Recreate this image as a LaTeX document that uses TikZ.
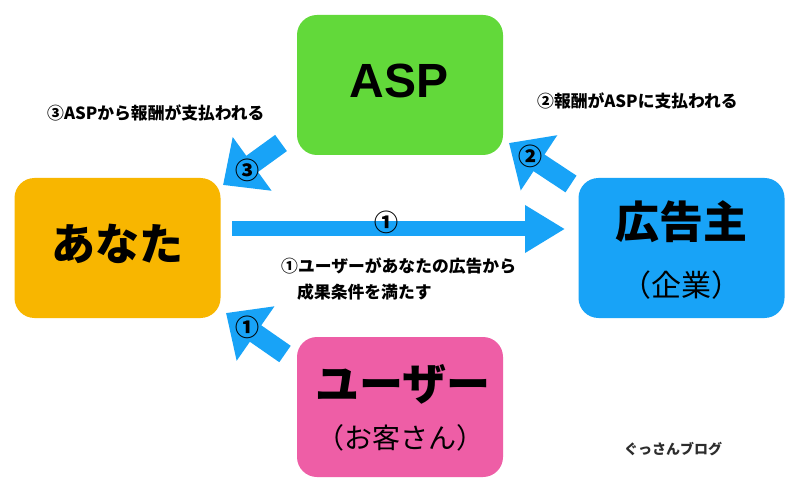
\documentclass[tikz,border=0pt]{standalone}
\usepackage{fontspec}
\setmainfont{Noto Sans CJK JP}
\newfontfamily\latinsans{Liberation Sans}
\usetikzlibrary{arrows.meta}
\definecolor{aspgreen}{RGB}{98,217,58}
\definecolor{youorange}{RGB}{248,182,0}
\definecolor{adblue}{RGB}{24,163,247}
\definecolor{userpink}{RGB}{238,94,166}
\definecolor{arrowblue}{RGB}{24,163,247}
\definecolor{txtgray}{RGB}{45,45,45}
\begin{document}
\begin{tikzpicture}[x=1pt,y=-1pt,
  box/.style={rounded corners=20pt,minimum width=206pt,minimum height=140pt,inner sep=0pt},
  bigarrow/.style={draw=arrowblue,line width=20pt,-{Triangle[length=36pt,width=64pt]}},
  mainarrow/.style={draw=arrowblue,line width=15pt,-{Triangle[length=40pt,width=45pt]}},
  bigtxt/.style={font=\fontsize{44}{48}\selectfont\bfseries,inner sep=0pt},
  subtxt/.style={font=\fontsize{28}{32}\selectfont,inner sep=0pt},
  lbl/.style={font=\fontsize{16.8}{20}\selectfont\bfseries,inner sep=0pt,text=black},
  circ/.style={font=\fontsize{24}{26}\selectfont\bfseries,inner sep=0pt}]
\useasboundingbox (0,0) rectangle (800,494);
\fill[white] (0,0) rectangle (800,494);
% boxes
\node[box,fill=aspgreen] (asp) at (400,85) {};
\node[box,fill=youorange] (you) at (117.5,248) {};
\node[box,fill=adblue] (adv) at (681.5,248) {};
\node[box,fill=userpink] (user) at (400,407) {};
% box texts
\node[font=\latinsans\fontsize{48}{52}\selectfont\bfseries,inner sep=0pt] (asptxt) at (399,80.5) {ASP};
\node[bigtxt] (youtxt) at (117,244) {あなた};
\node[bigtxt] (advtxt) at (681,222) {広告主};
\node[subtxt,font=\fontsize{30}{32}\selectfont] (advsub) at (681,285) {（企業）};
\node[bigtxt] (usertxt) at (403,384) {ユーザー};
\node[subtxt] (usersub) at (400,438) {（お客さん）};
% arrow coordinates
\coordinate (m1) at (232,229);
\coordinate (m2) at (565,229);
\coordinate (a3s) at (281,143);
\coordinate (a3e) at (223,185);
\coordinate (a2s) at (571,184);
\coordinate (a2e) at (509,143);
\coordinate (a1s) at (285,354);
\coordinate (a1e) at (226,313);
% arrows
\draw[mainarrow] (m1) -- (m2);
\draw[bigarrow] (a3s) -- (a3e);
\draw[bigarrow] (a2s) -- (a2e);
\draw[bigarrow] (a1s) -- (a1e);
% circled numbers
\node[circ] (c1m) at (386,222) {①};
\node[circ] (c3) at (247,170) {③};
\node[circ] (c2) at (530,156) {②};
\node[circ] (c1) at (247,327) {①};
% labels
\node[lbl,anchor=west] (l3) at (47,113) {③ASPから報酬が支払われる};
\node[lbl,anchor=west] (l2) at (537,101) {②報酬がASPに支払われる};
\node[lbl,anchor=west] (l1a) at (281,266) {①ユーザーがあなたの広告から};
\node[lbl,anchor=west] (l1b) at (297,292) {成果条件を満たす};
\node[font=\fontsize{14}{16}\selectfont\bfseries,text=txtgray,inner sep=0pt,anchor=west] (blog) at (624,449) {ぐっさんブログ};
\end{tikzpicture}
\end{document}
